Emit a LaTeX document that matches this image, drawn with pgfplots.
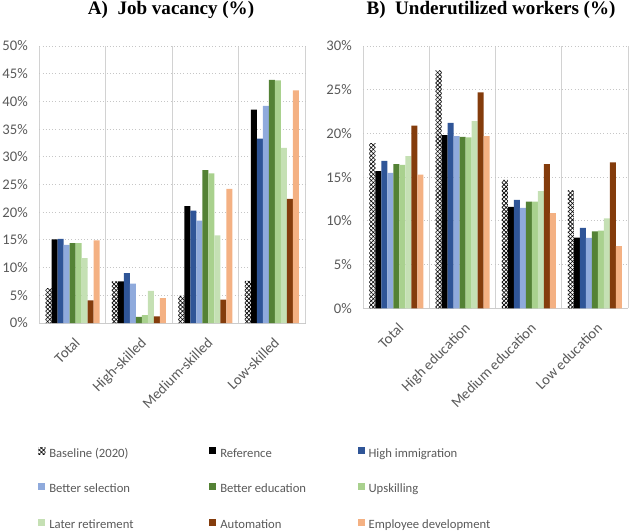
\documentclass[border=0pt]{standalone}
\usepackage{pgfplots}
\pgfplotsset{compat=1.18}
\usepackage{pgfplotstable}
\usetikzlibrary{patterns.meta}
\usepackage{fontspec}
\setmainfont{Carlito}
\newfontfamily\titlefont{Liberation Serif}

\definecolor{tickgray}{HTML}{595959}
\definecolor{cHi}{HTML}{2F5597}
\definecolor{cBs}{HTML}{8FAADC}
\definecolor{cBe}{HTML}{548235}
\definecolor{cUp}{HTML}{A9D18E}
\definecolor{cLr}{HTML}{C5E0B4}
\definecolor{cAu}{HTML}{843C0C}
\definecolor{cEm}{HTML}{F4B183}

\pgfplotstableread{
x base ref hi bs be up lr au em
0 6.3 15.1 15.2 14.1 14.4 14.4 11.7 4.1 14.9
1 7.5 7.5 9.0 7.1 1.1 1.4 5.8 1.2 4.5
2 4.9 21.1 20.3 18.5 27.6 27.0 15.8 4.2 24.2
3 7.6 38.5 33.3 39.2 43.9 43.8 31.6 22.4 42.0
}\jobvac

\pgfplotstableread{
x base ref hi bs be up lr au em
0 18.9 15.7 16.85 15.5 16.5 16.4 17.4 20.9 15.3
1 27.2 19.8 21.2 19.7 19.6 19.55 21.4 24.7 19.7
2 14.7 11.6 12.4 11.5 12.2 12.2 13.4 16.5 10.9
3 13.5 8.1 9.2 8.05 8.8 8.9 10.3 16.7 7.1
}\underut

\pgfplotsset{
  common/.style={
    scale only axis,
    ybar=0pt, bar width=4.5pt,
    xmin=-0.5, xmax=3.5, ymin=0,
    xtick={0,1,2,3},
    minor xtick={-0.5,0.5,1.5,2.5,3.5},
    xminorgrids, minor x grid style={gray!35, line width=0.7pt},
    ymajorgrids, major y grid style={gray!45, dotted, line width=0.6pt},
    axis x line=bottom, axis y line=left,
    axis line style={-},
    x axis line style={gray!40, line width=0.7pt},
    y axis line style={draw=none},
    tick style={draw=none},
    ticklabel style={font=\fontsize{11}{13}\selectfont, text=tickgray},
    xticklabel style={rotate=45, anchor=north east, inner sep=1pt, yshift=-5pt, xshift=-4pt},
    yticklabel style={xshift=-3pt},
    yticklabel={\pgfmathprintnumber[assume math mode=true]{\tick}\%},
    legend image code/.code={\path[##1, draw=none] (0pt,-0.3pt) rectangle (5.25pt,5pt);},
  },
  pbase/.style={draw=none, pattern={Lines[angle=45,distance=2.2pt,line width=0.5pt]}, postaction={pattern={Lines[angle=-45,distance=2.2pt,line width=0.5pt]}}},
}

\begin{document}
\begin{tikzpicture}
\useasboundingbox (0,0) rectangle (472.5pt,398.25pt);

\begin{axis}[common,
  at={(29.5pt,156pt)}, anchor=south west,
  width=199.3pt, height=207.75pt,
  ymax=50, ytick={0,5,...,50},
  xticklabels={Total,High-skilled,Medium-skilled,Low-skilled},
  legend columns=3, legend cell align=left,
  legend style={at={(-0.005,-0.4467)}, anchor=north west, draw=none, fill=none,
    inner sep=0pt, column sep=3pt, row sep=17.4pt,
    font=\fontsize{9.5}{11}\selectfont, text=tickgray,
    nodes={inner sep=0pt, text height=7pt, text depth=2pt}},
]
\addplot[pbase] table[x=x,y=base]{\jobvac};
\addlegendentry{\makebox[117pt][l]{Baseline (2020)}}
\addplot[draw=none, fill=black] table[x=x,y=ref]{\jobvac};
\addlegendentry{\makebox[100pt][l]{Reference}}
\addplot[draw=none, fill=cHi] table[x=x,y=hi]{\jobvac};
\addlegendentry{High immigration}
\addplot[draw=none, fill=cBs] table[x=x,y=bs]{\jobvac};
\addlegendentry{\makebox[117pt][l]{Better selection}}
\addplot[draw=none, fill=cBe] table[x=x,y=be]{\jobvac};
\addlegendentry{\makebox[100pt][l]{Better education}}
\addplot[draw=none, fill=cUp] table[x=x,y=up]{\jobvac};
\addlegendentry{Upskilling}
\addplot[draw=none, fill=cLr] table[x=x,y=lr]{\jobvac};
\addlegendentry{\makebox[117pt][l]{Later retirement}}
\addplot[draw=none, fill=cAu] table[x=x,y=au]{\jobvac};
\addlegendentry{\makebox[100pt][l]{Automation}}
\addplot[draw=none, fill=cEm] table[x=x,y=em]{\jobvac};
\addlegendentry{Employee development}
\end{axis}

\begin{axis}[common,
  at={(272.5pt,167pt)}, anchor=south west,
  width=198.5pt, height=196.75pt,
  ymax=30, ytick={0,5,...,30},
  xticklabels={Total,High education,Medium education,Low education},
]
\addplot[pbase] table[x=x,y=base]{\underut};
\addplot[draw=none, fill=black] table[x=x,y=ref]{\underut};
\addplot[draw=none, fill=cHi] table[x=x,y=hi]{\underut};
\addplot[draw=none, fill=cBs] table[x=x,y=bs]{\underut};
\addplot[draw=none, fill=cBe] table[x=x,y=be]{\underut};
\addplot[draw=none, fill=cUp] table[x=x,y=up]{\underut};
\addplot[draw=none, fill=cLr] table[x=x,y=lr]{\underut};
\addplot[draw=none, fill=cAu] table[x=x,y=au]{\underut};
\addplot[draw=none, fill=cEm] table[x=x,y=em]{\underut};
\end{axis}

\node[font=\titlefont\bfseries\fontsize{14.3}{16}\selectfont] at (128.25pt,390.75pt) {A)\ \ Job vacancy (\%)};
\node[font=\titlefont\bfseries\fontsize{14.3}{16}\selectfont] at (368.25pt,390.75pt) {B)\ \ Underutilized workers (\%)};
\end{tikzpicture}
\end{document}
